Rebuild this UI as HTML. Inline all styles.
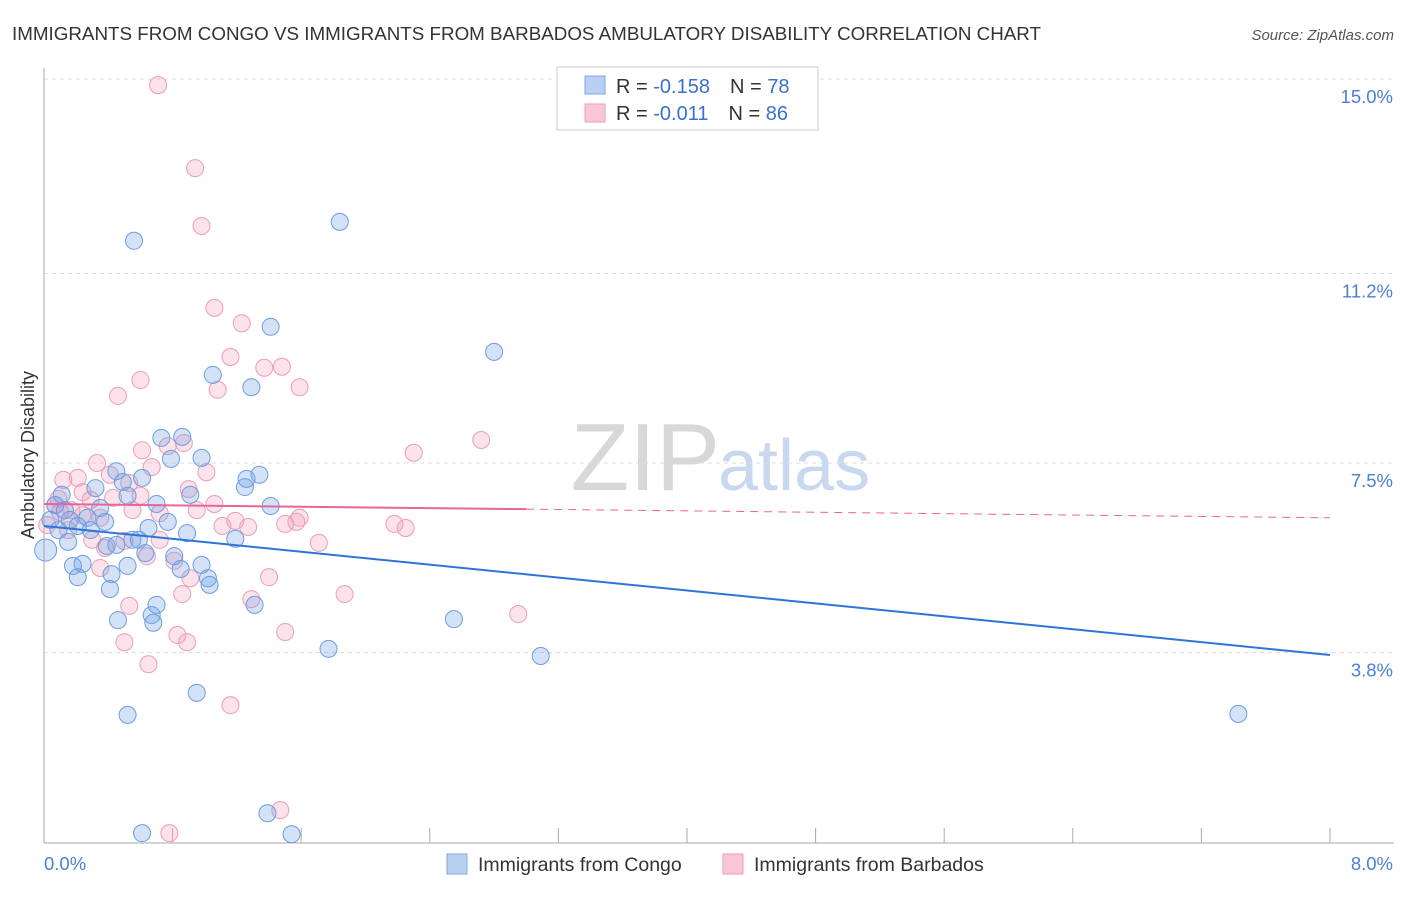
<!DOCTYPE html>
<html><head><meta charset="utf-8"><style>
body{margin:0;background:#fff;font-family:"Liberation Sans",sans-serif;}
svg text{font-family:"Liberation Sans",sans-serif;}
</style></head><body>
<svg id="chart" width="1406" height="892">
<text x="12" y="40" font-size="18.5" fill="#333" textLength="1029" lengthAdjust="spacingAndGlyphs">IMMIGRANTS FROM CONGO VS IMMIGRANTS FROM BARBADOS AMBULATORY DISABILITY CORRELATION CHART</text>
<text x="1394" y="40" font-size="15" fill="#555" text-anchor="end" font-style="italic">Source: ZipAtlas.com</text>
<text x="720" y="490" font-size="96" fill="#d8d8d8" text-anchor="end" font-family="Liberation Serif">ZIP</text>
<text x="718" y="490" font-size="72" fill="#c8d8ee">atlas</text>
<g id="grid"></g><g id="axes"></g><g id="marks"></g><g id="trend"></g>
<text transform="translate(34,455) rotate(-90)" font-size="18" fill="#333" text-anchor="middle">Ambulatory Disability</text>
<text x="44" y="870" font-size="18.5" fill="#4a7fd4">0.0%</text>
<text x="1393" y="870" font-size="18.5" fill="#4a7fd4" text-anchor="end">8.0%</text>
<g>
<rect x="557" y="67" width="261" height="63" fill="#fff" stroke="#ccc"/>
<rect x="585" y="76" width="20" height="18" fill="#b9d0f2" stroke="#7fa6e0"/>
<rect x="585" y="104" width="20" height="18" fill="#f8c6d6" stroke="#eb9db8"/>
<text x="616" y="93" font-size="20" fill="#333">R = <tspan fill="#3a70d0">-0.158</tspan><tspan dx="20">N = </tspan><tspan fill="#3a70d0">78</tspan></text>
<text x="616" y="120" font-size="20" fill="#333">R = <tspan fill="#3a70d0">-0.011</tspan><tspan dx="20">N = </tspan><tspan fill="#3a70d0">86</tspan></text>
</g>
<g><rect x="447" y="854" width="20" height="20" fill="#b9d0f2" stroke="#7fa6e0"/><text x="478" y="871" font-size="19.5" fill="#333">Immigrants from Congo</text></g>
<g><rect x="723" y="854" width="20" height="20" fill="#f8c6d6" stroke="#eb9db8"/><text x="754" y="871" font-size="19.5" fill="#333">Immigrants from Barbados</text></g>
</svg>
<script>
const yTicks=[15.0,11.2,7.5,3.8];
const yTickLabels=["15.0%","11.2%","7.5%","3.8%"];
const xTicks=[0,0.8,1.6,2.4,3.2,4.0,4.8,5.6,6.4,7.2,8.0];
const congoX=[0.56,1.84,1.41,2.80,1.05,1.29,0.73,0.86,0.79,0.98,1.34,1.26,1.25,0.45,0.61,0.49,0.32,0.52,0.91,0.70,1.41,0.07,0.13,0.35,0.27,0.21,0.38,0.77,0.65,0.89,1.19,0.59,0.55,0.15,0.39,0.45,0.63,0.81,0.98,0.85,0.18,0.52,0.24,0.42,0.21,1.02,1.03,0.41,0.70,0.67,0.68,0.46,1.31,2.55,1.77,3.09,0.95,0.52,7.43,1.39,0.61,1.54,0.01,0.04,0.09,0.11,0.16,0.29];
const congoY=[11.84,12.21,10.16,9.67,9.22,8.98,7.99,8.01,7.58,7.60,7.27,7.19,7.03,7.34,7.21,7.13,7.01,6.86,6.88,6.70,6.66,6.68,6.58,6.62,6.43,6.27,6.35,6.35,6.23,6.13,6.02,6.00,6.00,5.96,5.88,5.90,5.74,5.68,5.51,5.43,5.49,5.49,5.53,5.33,5.27,5.25,5.12,5.04,4.73,4.53,4.38,4.43,4.73,4.45,3.87,3.73,3.01,2.58,2.60,0.66,0.27,0.25,5.80,6.39,6.19,6.88,6.39,6.19];
const barbX=[0.71,0.94,0.98,1.06,1.23,1.16,1.48,1.37,1.59,1.08,0.60,0.46,2.72,2.30,0.61,0.87,0.77,0.67,1.01,0.33,0.41,0.12,0.21,0.24,0.53,0.90,1.06,0.60,0.95,0.43,0.09,0.07,0.24,0.35,0.55,0.72,1.11,1.19,1.27,1.59,1.50,1.57,2.18,2.25,1.71,0.30,0.50,0.72,0.81,0.64,0.91,1.40,0.35,1.87,1.29,0.86,0.53,2.95,1.50,0.83,0.89,0.50,0.65,1.16,0.78,1.47,0.15,0.17,0.02,0.10,0.29,0.38];
const barbY=[14.88,13.26,12.13,10.53,10.23,9.57,9.38,9.36,8.98,8.93,9.12,8.81,7.95,7.70,7.75,7.89,7.83,7.42,7.32,7.50,7.27,7.17,7.21,6.93,7.11,6.99,6.70,6.86,6.58,6.82,6.80,6.68,6.48,6.43,6.58,6.52,6.27,6.37,6.25,6.43,6.31,6.35,6.31,6.23,5.94,6.00,5.98,6.00,5.59,5.68,5.25,5.27,5.45,4.94,4.84,4.94,4.71,4.55,4.20,4.14,4.00,4.00,3.57,2.77,0.27,0.72,6.19,6.58,6.29,6.54,6.78,5.84];
const congoTrend=[6.27,3.75];
const barbTrend=[6.70,6.43];
const barbSolidEnd=3.0;
const NS="http://www.w3.org/2000/svg";
const X=v=>44+v*(1286/8);
const Y=v=>79+(15-v)*51.2;
function mk(tag,attrs,parent){const e=document.createElementNS(NS,tag);for(const k in attrs)e.setAttribute(k,attrs[k]);parent.appendChild(e);return e;}
const grid=document.getElementById('grid'),axes=document.getElementById('axes'),marks=document.getElementById('marks'),trend=document.getElementById('trend');
yTicks.forEach((t,i)=>{
 const l=mk('line',{x1:44,x2:1394,y1:Y(t),y2:Y(t),stroke:'#ddd','stroke-dasharray':'4,4'},grid);
 
 
 const tx=mk('text',{x:1393,y:Y(t)+24,'font-size':18.5,fill:'#4a7fd4','text-anchor':'end'},axes);
 tx.textContent=yTickLabels[i];
 
 
});
const ya=mk('line',{x1:44,x2:44,y1:68,y2:843,stroke:'#aaa'},axes);


const xa=mk('line',{x1:44,x2:1394,y1:843,y2:843,stroke:'#aaa'},axes);


xTicks.forEach(t=>{
 const l=mk('line',{x1:X(t),x2:X(t),y1:828,y2:843,stroke:'#aaa'},axes);
 
 
});
function pts(xs,ys,fill,stroke,name){xs.forEach((x,i)=>{
 const c=mk('circle',{cx:X(x),cy:Y(ys[i]),r:(i===xs.length-6&&name==='congo-point')?11:8.5,fill:fill,stroke:stroke,'stroke-width':1},marks);
 
 
});}
pts(barbX,barbY,'rgba(243,160,190,0.3)','#eb9db8','barbados-point');
pts(congoX,congoY,'rgba(110,160,230,0.3)','#6d9de0','congo-point');
const ct=mk('line',{x1:X(0),y1:Y(congoTrend[0]),x2:X(8),y2:Y(congoTrend[1]),stroke:'#2f74d8','stroke-width':2},trend);


const yb=x=>barbTrend[0]+(barbTrend[1]-barbTrend[0])*x/8;
const bt=mk('line',{x1:X(0),y1:Y(yb(0)),x2:X(barbSolidEnd),y2:Y(yb(barbSolidEnd)),stroke:'#e8649a','stroke-width':2},trend);


const bd=mk('line',{x1:X(barbSolidEnd),y1:Y(yb(barbSolidEnd)),x2:X(8),y2:Y(yb(8)),stroke:'#e8649a','stroke-width':1,'stroke-dasharray':'8,6'},trend);


</script>
</body></html>
